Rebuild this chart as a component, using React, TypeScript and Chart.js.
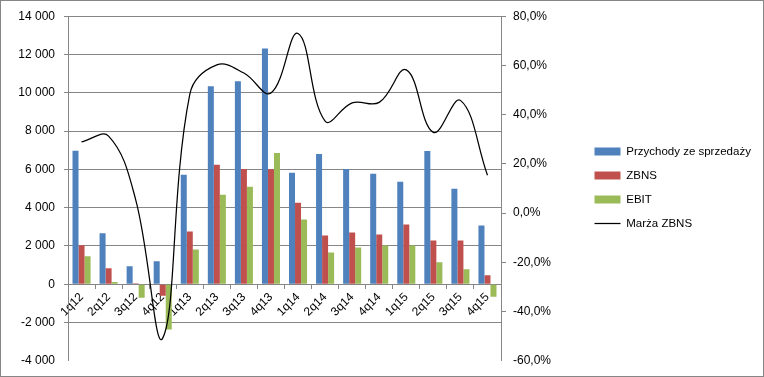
import React, { useEffect, useRef } from 'react';
import { Chart, registerables } from 'chart.js';

Chart.register(...registerables);

const categories = ['1q12', '2q12', '3q12', '4q12', '1q13', '2q13', '3q13', '4q13', '1q14', '2q14', '3q14', '4q14', '1q15', '2q15', '3q15', '4q15'];
const przychody = [6970, 2665, 935, 1195, 5715, 10340, 10600, 12310, 5820, 6805, 6025, 5765, 5350, 6960, 4990, 3065];
const zbns = [2030, 830, 50, -605, 2755, 6235, 6025, 6010, 4260, 2545, 2700, 2595, 3115, 2285, 2285, 470];
const ebit = [1455, 120, -710, -2370, 1820, 4675, 5090, 6855, 3375, 1660, 1920, 2025, 2025, 1145, 780, -660];
const marza = [28.9, 31.3, 5.5, -50.8, 48.2, 60.2, 56.9, 48.8, 73.0, 37.4, 44.8, 45.0, 58.2, 32.8, 45.8, 15.4];

const seriesNames = ['Przychody ze sprzedaży', 'ZBNS', 'EBIT', 'Marża ZBNS'];
const seriesColors = ['#4F81BD', '#C0504D', '#9BBB59', '#000000'];

const leftMin = -4000;
const leftMax = 14000;
const leftStep = 2000;
const rightMin = -60;
const rightMax = 80;
const rightStep = 20;

const FONT = "'Liberation Sans', Arial, sans-serif";
const GRID = '#868686';

const fmtThousands = (v: number) => {
  const s = Math.abs(v).toString().replace(/\B(?=(\d{3})+(?!\d))/g, ' ');
  return (v < 0 ? '-' : '') + s;
};
const fmtPct = (v: number) => v.toFixed(1).replace('.', ',') + '%';

const borderPlugin = {
  id: 'outerBorder',
  afterDraw(chart: any) {
    const ctx = chart.ctx;
    ctx.save();
    ctx.strokeStyle = GRID;
    ctx.lineWidth = 1;
    ctx.strokeRect(0.5, 0.5, chart.width - 1, chart.height - 1);
    ctx.restore();
  },
};

export default function App() {
  const ref = useRef<HTMLCanvasElement>(null);

  useEffect(() => {
    const chart = new Chart(ref.current as HTMLCanvasElement, {
      type: 'bar',
      data: {
        labels: categories,
        datasets: [
          { type: 'bar', label: seriesNames[0], data: przychody, backgroundColor: seriesColors[0], borderWidth: 0, yAxisID: 'y', order: 1 },
          { type: 'bar', label: seriesNames[1], data: zbns, backgroundColor: seriesColors[1], borderWidth: 0, yAxisID: 'y', order: 1 },
          { type: 'bar', label: seriesNames[2], data: ebit, backgroundColor: seriesColors[2], borderWidth: 0, yAxisID: 'y', order: 1 },
          {
            type: 'line', label: seriesNames[3], data: marza, borderColor: seriesColors[3], backgroundColor: seriesColors[3],
            borderWidth: 1.25, pointRadius: 0, tension: 0.4, yAxisID: 'y2', order: 0, clip: false as any,
          },
        ] as any,
      },
      options: {
        responsive: false,
        devicePixelRatio: 1,
        animation: false,
        layout: { padding: { left: 0, right: 4, top: 14, bottom: 16 } },
        datasets: { bar: { categoryPercentage: 0.667, barPercentage: 1 } } as any,
        plugins: {
          tooltip: { enabled: false },
          legend: {
            position: 'right',
            maxWidth: 178,
            labels: {
              font: { family: FONT, size: 11.5 },
              color: '#000',
              usePointStyle: true,
              pointStyleWidth: 26,
              boxHeight: 8,
              padding: 12.5,
              sort: (a: any, b: any) => a.datasetIndex - b.datasetIndex,
              generateLabels: (c: any) => {
                const items = (Chart.defaults.plugins.legend.labels as any).generateLabels(c);
                return items.map((it: any) => {
                  const isLine = it.datasetIndex === 3;
                  return {
                    ...it,
                    pointStyle: isLine ? 'line' : 'rect',
                    lineWidth: isLine ? 1.25 : 0,
                    strokeStyle: isLine ? '#000' : it.fillStyle,
                  };
                });
              },
            },
          } as any,
        },
        scales: {
          x: {
            type: 'category',
            position: { y: 0 } as any,
            offset: true,
            grid: { display: true, drawOnChartArea: false, drawTicks: true, tickLength: 4, color: GRID, offset: true },
            border: { display: true, color: GRID },
            ticks: {
              autoSkip: false,
              maxRotation: 45,
              minRotation: 45,
              padding: 2,
              color: '#000',
              font: { family: FONT, size: 12 },
            },
          },
          y: {
            type: 'linear',
            position: 'left',
            min: leftMin,
            max: leftMax,
            afterFit: (s: any) => { s.width = 68; },
            grid: {
              color: (c: any) => (c.tick && c.tick.value === leftMin ? 'rgba(0,0,0,0)' : GRID),
              tickLength: 4,
            },
            border: { display: true, color: GRID },
            ticks: {
              stepSize: leftStep,
              padding: 9,
              color: '#000',
              font: { family: FONT, size: 12 },
              callback: (v: any) => fmtThousands(Number(v)),
            },
          },
          y2: {
            type: 'linear',
            position: 'right',
            min: rightMin,
            max: rightMax,
            afterFit: (s: any) => { s.width = 81; },
            grid: {
              drawOnChartArea: false,
              tickLength: 5,
              color: (c: any) => (c.tick && c.tick.value === rightMin ? 'rgba(0,0,0,0)' : GRID),
            },
            border: { display: true, color: GRID },
            ticks: {
              stepSize: rightStep,
              padding: 7,
              color: '#000',
              font: { family: FONT, size: 12 },
              callback: (v: any) => fmtPct(Number(v)),
            },
          },
        },
      },
      plugins: [borderPlugin],
    });
    return () => chart.destroy();
  }, []);

  return (
    <div style={{ position: 'absolute', left: 0, top: 0, width: 764, height: 377, background: '#fff' }}>
      <canvas ref={ref} width={764} height={377} style={{ display: 'block', width: 764, height: 377 }} />
    </div>
  );
}
